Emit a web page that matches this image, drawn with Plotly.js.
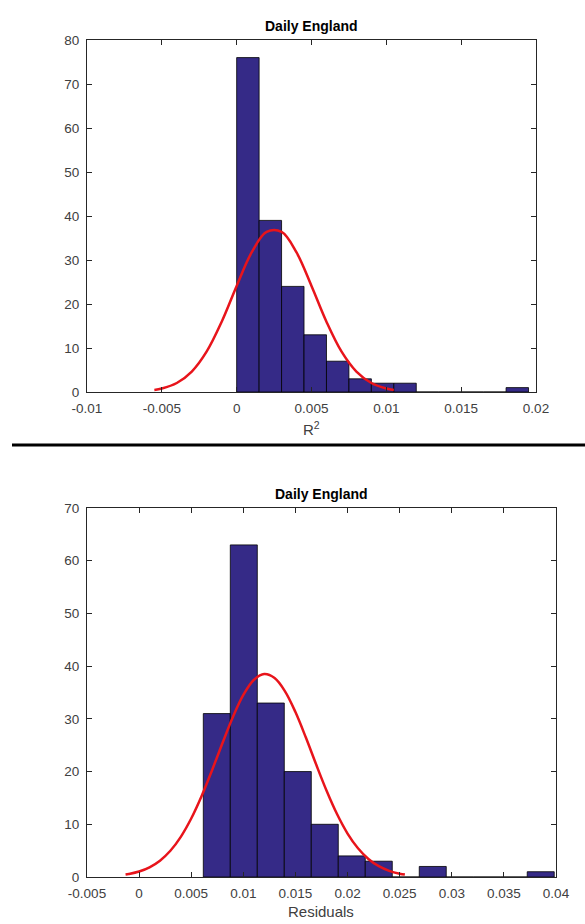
<!DOCTYPE html>
<html>
<head>
<meta charset="utf-8">
<script src="https://cdn.plot.ly/plotly-3.0.1.min.js"></script>
<style>html,body{margin:0;padding:0;background:#fff;}#chart{width:585px;height:924px;}</style>
</head>
<body>
<div id="chart"></div>
<script>
// ---- Data ----
var chartTitle = "Daily England";

// Top panel: R^2 histogram
var r2BinCenters = [0.00075, 0.00225, 0.00375, 0.00525, 0.00675, 0.00825, 0.00975, 0.01125, 0.01275, 0.01425, 0.01575, 0.01725, 0.01875];
var r2Counts     = [76, 39, 24, 13, 7, 3, 2, 2, 0, 0, 0, 0, 1];
var r2FitX = [-0.0055, -0.005, -0.004, -0.003, -0.002, -0.001, 0, 0.001, 0.002, 0.003, 0.004, 0.005, 0.006, 0.007, 0.008, 0.009, 0.010, 0.0105];
var r2FitY = [0.46, 0.78, 2.04, 4.65, 9.23, 15.97, 24.1, 31.71, 36.37, 36.37, 31.71, 24.1, 15.97, 9.23, 4.65, 2.04, 0.78, 0.46];
var r2TickVals = [-0.01, -0.005, 0, 0.005, 0.01, 0.015, 0.02];
var r2TickText = ["-0.01", "-0.005", "0", "0.005", "0.01", "0.015", "0.02"];
var r2YTicks = [0, 10, 20, 30, 40, 50, 60, 70, 80];

// Bottom panel: residuals histogram
var resBinCenters = [0.007455, 0.010045, 0.012635, 0.015225, 0.017815, 0.020405, 0.022995, 0.025585, 0.028175, 0.030765, 0.033355, 0.035945, 0.038535];
var resCounts     = [31, 63, 33, 20, 10, 4, 3, 0, 2, 0, 0, 0, 1];
var resFitX = [-0.0013, -0.001, 0, 0.001, 0.002, 0.003, 0.004, 0.005, 0.006, 0.007, 0.008, 0.009, 0.010, 0.011, 0.012, 0.013, 0.014, 0.015, 0.016, 0.017, 0.018, 0.019, 0.020, 0.021, 0.022, 0.023, 0.024, 0.025, 0.0255];
var resFitY = [0.46, 0.56, 1.04, 1.84, 3.10, 4.98, 7.62, 11.09, 15.36, 20.26, 25.42, 30.36, 34.53, 37.37, 38.49, 37.74, 35.22, 31.29, 26.45, 21.28, 16.31, 11.89, 8.24, 5.44, 3.42, 2.05, 1.17, 0.63, 0.46];
var resTickVals = [-0.005, 0, 0.005, 0.01, 0.015, 0.02, 0.025, 0.03, 0.035, 0.04];
var resTickText = ["-0.005", "0", "0.005", "0.01", "0.015", "0.02", "0.025", "0.03", "0.035", "0.04"];
var resYTicks = [0, 10, 20, 30, 40, 50, 60, 70];

// ---- Styling ----
var barColor = "#352a87";
var fitColor = "#e8141b";
var axisColor = "#262626";
var fam = "Liberation Sans, Arial, sans-serif";
var tickFont = {family: fam, size: 13.5, color: "#404040"};

function binWidth(c) { return c[1] - c[0]; }

var traces = [
  {type: "bar", x: r2BinCenters, y: r2Counts, width: binWidth(r2BinCenters),
   marker: {color: barColor, line: {color: "#000", width: 0.8}}, xaxis: "x", yaxis: "y"},
  {type: "scatter", mode: "lines", x: r2FitX, y: r2FitY, line: {color: fitColor, width: 2.5, shape: "spline"},
   xaxis: "x", yaxis: "y"},
  {type: "bar", x: resBinCenters, y: resCounts, width: binWidth(resBinCenters),
   marker: {color: barColor, line: {color: "#000", width: 0.8}}, xaxis: "x2", yaxis: "y2"},
  {type: "scatter", mode: "lines", x: resFitX, y: resFitY, line: {color: fitColor, width: 2.5, shape: "spline"},
   xaxis: "x2", yaxis: "y2"}
];

function ax(extra) {
  var base = {
    showline: true, linecolor: axisColor, linewidth: 1, mirror: "ticks",
    ticks: "inside", ticklen: 5, tickcolor: axisColor, tickwidth: 1,
    showgrid: false, zeroline: false, tickfont: tickFont, fixedrange: true,
    ticklabelstandoff: 4
  };
  for (var k in extra) base[k] = extra[k];
  return base;
}

var W = 585, H = 924;
var topX = [87 / W, 536 / W], botX = [87 / W, 556 / W];
var topY = [(H - 392) / H, (H - 40) / H], botY = [(H - 877) / H, (H - 508) / H];

var layout = {
  width: W, height: H,
  margin: {l: 0, r: 0, t: 0, b: 0},
  paper_bgcolor: "#fff", plot_bgcolor: "#fff",
  showlegend: false, bargap: 0,
  xaxis: ax({domain: topX, anchor: "y", range: [-0.01, 0.02], tickmode: "array", tickvals: r2TickVals, ticktext: r2TickText}),
  yaxis: ax({domain: topY, anchor: "x", range: [0, 80], tickmode: "array", tickvals: r2YTicks}),
  xaxis2: ax({domain: botX, anchor: "y2", range: [-0.005, 0.04], tickmode: "array", tickvals: resTickVals, ticktext: resTickText}),
  yaxis2: ax({domain: botY, anchor: "x2", range: [0, 70], tickmode: "array", tickvals: resYTicks}),
  annotations: [
    {text: "<b>" + chartTitle + "</b>", xref: "paper", yref: "paper", x: (topX[0] + topX[1]) / 2, y: (H - 26) / H,
     showarrow: false, font: {family: fam, size: 14, color: "#000"}, xanchor: "center", yanchor: "middle"},
    {text: "R<sup>2</sup>", xref: "paper", yref: "paper", x: (topX[0] + topX[1]) / 2, y: (H - 428) / H,
     showarrow: false, font: {family: fam, size: 15, color: "#404040"}, xanchor: "center", yanchor: "middle"},
    {text: "<b>" + chartTitle + "</b>", xref: "paper", yref: "paper", x: (botX[0] + botX[1]) / 2, y: (H - 494) / H,
     showarrow: false, font: {family: fam, size: 14, color: "#000"}, xanchor: "center", yanchor: "middle"},
    {text: "Residuals", xref: "paper", yref: "paper", x: (botX[0] + botX[1]) / 2, y: (H - 911) / H,
     showarrow: false, font: {family: fam, size: 15, color: "#404040"}, xanchor: "center", yanchor: "middle"}
  ],
  shapes: [
    {type: "line", xref: "paper", yref: "paper", x0: 12 / W, x1: 1, y0: (H - 445) / H, y1: (H - 445) / H,
     line: {color: "#000", width: 3}}
  ]
};

Plotly.newPlot("chart", traces, layout, {displayModeBar: false, staticPlot: true});
</script>
</body>
</html>
